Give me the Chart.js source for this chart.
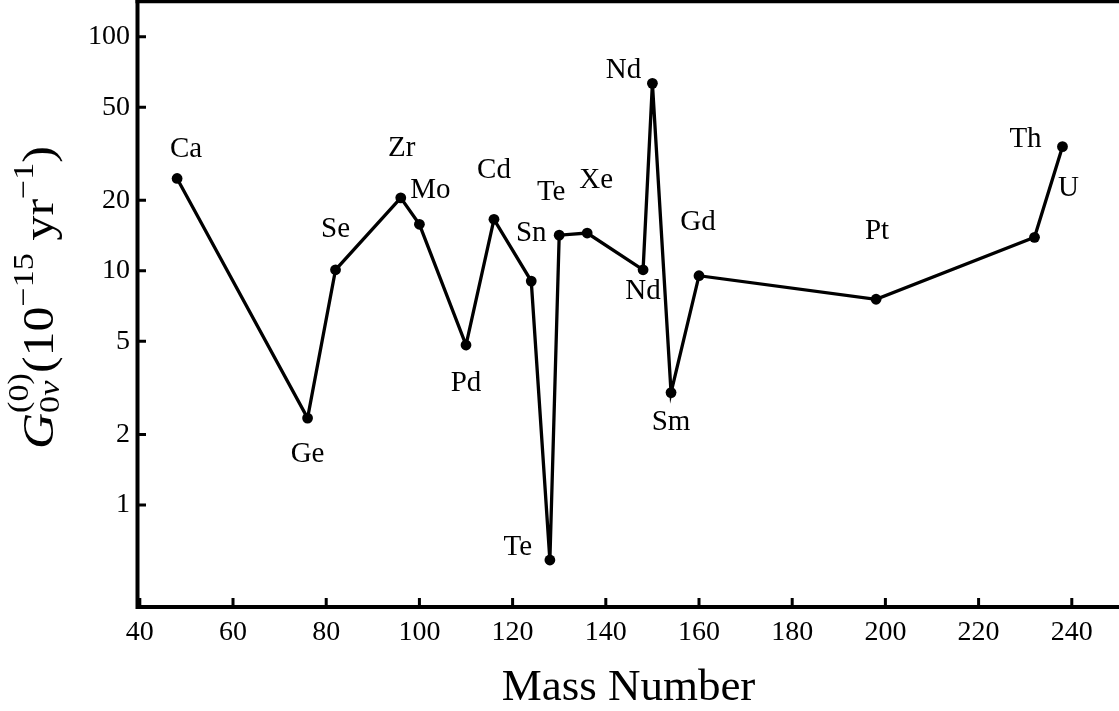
<!DOCTYPE html>
<html><head><meta charset="utf-8">
<script src="https://cdn.jsdelivr.net/npm/chart.js@4.4.1/dist/chart.umd.min.js"></script>
<style>html,body{margin:0;padding:0;background:#fff;}#wrap{width:1119px;height:711px;}</style>
</head><body><div id="wrap"><canvas id="c" width="1119" height="711"></canvas></div>
<script>
// ---- data ----
const massNumbers = [48, 76, 82, 96, 100, 110, 116, 124, 128, 130, 136, 148, 150, 154, 160, 198, 232, 238];
const elements = ['Ca','Ge','Se','Zr','Mo','Pd','Cd','Sn','Te','Te','Xe','Nd','Nd','Sm','Gd','Pt','Th','U'];
const phaseSpace = [24.8, 2.35, 10.1, 20.5, 15.8, 4.82, 16.6, 9.04, 0.582, 14.2, 14.5, 10.1, 63.2, 3.02, 9.53, 7.56, 13.9, 33.9];
const xTickValues = [40, 60, 80, 100, 120, 140, 160, 180, 200, 220, 240];
const yTickValues = [1, 2, 5, 10, 20, 50, 100];
// label placement (pixel offsets from their point)
const labelOffsets = [[9,-29],[0,36],[0,-40],[1,-49],[11,-34],[0,38],[0,-49],[0,-48],[-32,-13],[-8,-43],[9,-53],[0,22],[-29,-13],[0,30],[-1,-53],[1,-68],[-9,-98],[6,42]];
const xTitle = 'Mass Number';

const SERIF = '"Liberation Serif", "Times New Roman", serif';

const labelPlugin = {
  id: 'labels',
  afterDatasetsDraw(chart) {
    const ctx = chart.ctx;
    const meta = chart.getDatasetMeta(0);
    ctx.save();
    ctx.fillStyle = '#000';
    ctx.font = '29px ' + SERIF;
    ctx.textAlign = 'center';
    ctx.textBaseline = 'middle';
    meta.data.forEach((pt, i) => {
      const o = labelOffsets[i];
      ctx.fillText(elements[i], pt.x + o[0], pt.y + o[1]);
    });
    ctx.restore();
  }
};

const framePlugin = {
  id: 'frame',
  afterDraw(chart) {
    const {ctx, chartArea: a, scales: {x, y}} = chart;
    const W = chart.width;
    ctx.save();
    ctx.strokeStyle = '#000';
    ctx.lineCap = 'butt';
    ctx.lineWidth = 4;
    ctx.beginPath();
    ctx.moveTo(a.left - 0.5, 0); ctx.lineTo(a.left - 0.5, a.bottom + 2);
    ctx.moveTo(a.left - 2.5, a.bottom); ctx.lineTo(W, a.bottom);
    ctx.stroke();
    ctx.lineWidth = 3.5;
    ctx.beginPath();
    ctx.moveTo(a.left - 2.5, a.top); ctx.lineTo(W, a.top);
    ctx.stroke();
    // inward ticks
    ctx.lineWidth = 3;
    ctx.beginPath();
    y.ticks.forEach(t => {
      const py = y.getPixelForValue(t.value);
      ctx.moveTo(a.left, py); ctx.lineTo(a.left + 8, py);
    });
    x.ticks.forEach(t => {
      const px = x.getPixelForValue(t.value);
      ctx.moveTo(px, a.bottom); ctx.lineTo(px, a.bottom - 9);
    });
    ctx.stroke();

    // x title
    ctx.fillStyle = '#000';
    ctx.font = '45px ' + SERIF;
    ctx.textAlign = 'center';
    ctx.textBaseline = 'alphabetic';
    ctx.fillText(xTitle, (a.left + a.right) / 2, 700);

    // y title: G^{(0)}_{0ν} (10^{-15} yr^{-1})
    const big = '44px ' + SERIF, bigI = 'italic 44px ' + SERIF, sm = '30px ' + SERIF, smI = 'italic 30px ' + SERIF;
    const parts = [
      {segs: [{t: 'G', f: bigI}], dy: 0},
      {stack: [{segs: [{t: '(0)', f: sm}], dy: -25}, {segs: [{t: '0', f: sm}, {t: 'ν', f: smI}], dy: 6}]},
      {segs: [{t: '(10', f: big}], dy: 0},
      {segs: [{t: '\u221215', f: sm}], dy: -20},
      {segs: [{t: ' yr', f: big}], dy: 0},
      {segs: [{t: '\u22121', f: sm}], dy: -20},
      {segs: [{t: ')', f: big}], dy: 0}
    ];
    const segW = segs => segs.reduce((s, g) => { ctx.font = g.f; return s + ctx.measureText(g.t).width; }, 0);
    const partW = p => p.stack ? Math.max(...p.stack.map(q => segW(q.segs))) : segW(p.segs);
    const total = parts.reduce((s, p) => s + partW(p), 0);
    const target = 303;
    ctx.translate(53, 297.5);
    ctx.rotate(-Math.PI / 2);
    ctx.scale(target / total, 1);
    ctx.textAlign = 'left';
    let cx = -total / 2;
    const drawSegs = (segs, x0, dy) => {
      let xx = x0;
      segs.forEach(g => { ctx.font = g.f; ctx.fillText(g.t, xx, dy); xx += ctx.measureText(g.t).width; });
    };
    parts.forEach(p => {
      if (p.stack) p.stack.forEach(q => drawSegs(q.segs, cx, q.dy));
      else drawSegs(p.segs, cx, p.dy);
      cx += partW(p);
    });
    ctx.restore();
  }
};

new Chart(document.getElementById('c'), {
  type: 'line',
  data: {
    datasets: [{
      data: massNumbers.map((m, i) => ({x: m, y: phaseSpace[i]})),
      borderColor: '#000',
      borderWidth: 3.3,
      backgroundColor: '#000',
      pointBackgroundColor: '#000',
      pointBorderWidth: 0,
      pointRadius: 5.4,
      tension: 0,
      fill: false,
      clip: false
    }]
  },
  options: {
    responsive: false,
    animation: false,
    devicePixelRatio: 1,
    layout: {autoPadding: false, padding: {top: 1.5, right: 0, left: 0, bottom: 0}},
    plugins: {legend: {display: false}, tooltip: {enabled: false}},
    scales: {
      x: {
        type: 'linear',
        min: 39.61,
        max: 250.13,
        grid: {display: false, drawTicks: false},
        border: {display: false},
        afterBuildTicks: s => { s.ticks = xTickValues.map(v => ({value: v})); },
        afterFit: s => { s.height = 104; s.paddingLeft = 0; s.paddingRight = 0; s.paddingTop = 0; s.paddingBottom = 0; },
        ticks: {color: '#000', font: {family: SERIF, size: 28}, padding: 9, maxRotation: 0, autoSkip: false,
                callback: v => String(v)}
      },
      y: {
        type: 'logarithmic',
        min: 0.3667,
        max: 141.3,
        grid: {display: false, drawTicks: false},
        border: {display: false},
        afterBuildTicks: s => { s.ticks = yTickValues.map(v => ({value: v})); },
        afterFit: s => { s.width = 138; s.paddingLeft = 0; s.paddingRight = 0; s.paddingTop = 0; s.paddingBottom = 0; },
        ticks: {color: '#000', font: {family: SERIF, size: 28}, padding: 8, autoSkip: false,
                callback: v => String(v)}
      }
    }
  },
  plugins: [labelPlugin, framePlugin]
});
</script></body></html>
